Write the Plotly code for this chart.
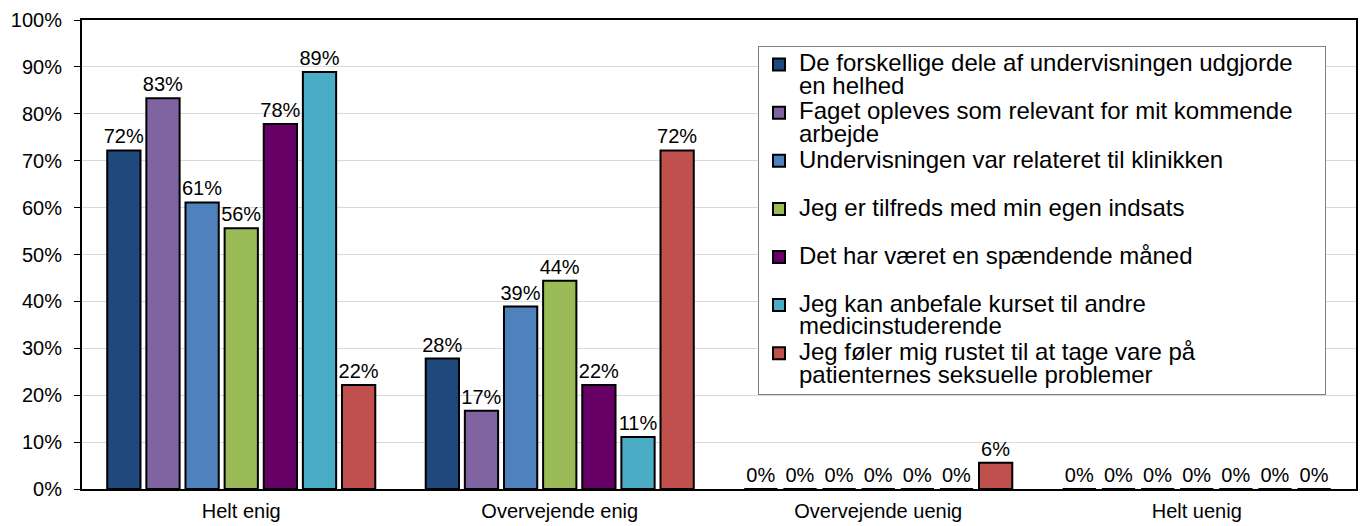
import plotly.graph_objects as go

categories = ["Helt enig", "Overvejende enig", "Overvejende uenig", "Helt uenig"]
series_lines = [
    ["De forskellige dele af undervisningen udgjorde&nbsp;&nbsp;&nbsp;&nbsp;", "en helhed"],
    ["Faget opleves som relevant for mit kommende", "arbejde"],
    ["Undervisningen var relateret til klinikken", " "],
    ["Jeg er tilfreds med min egen indsats", " "],
    ["Det har været en spændende måned", " "],
    ["Jeg kan anbefale kurset til andre", "medicinstuderende"],
    ["Jeg føler mig rustet til at tage vare på", "patienternes seksuelle problemer"],
]
values = [
    [72.2, 27.8, 0, 0],
    [83.3, 16.7, 0, 0],
    [61.1, 38.9, 0, 0],
    [55.6, 44.4, 0, 0],
    [77.8, 22.2, 0, 0],
    [88.9, 11.1, 0, 0],
    [22.2, 72.2, 5.6, 0],
]
colors = ["#1F497D", "#8064A2", "#4F81BD", "#9BBB59", "#660066", "#4BACC6", "#C0504D"]

FONT = "Liberation Sans, Arial, sans-serif"


def legend_name(lines):
    return "<br>".join(f'<span style="font-size:24px">{ln}</span>' for ln in lines)


fig = go.Figure()
for lines, vals, col in zip(series_lines, values, colors):
    fig.add_trace(go.Bar(
        name=legend_name(lines),
        x=categories,
        y=vals,
        marker=dict(color=col, line=dict(color="black", width=2)),
        text=[f"{round(v):d}%" for v in vals],
        textposition="outside",
        constraintext="none",
        textfont=dict(size=20, color="black", family=FONT),
        cliponaxis=False,
    ))

# the page body has an 8px margin, so the figure is sized to fit the window
fig.update_layout(
    width=1361, height=518,
    margin=dict(l=74, r=13, t=12, b=37),
    paper_bgcolor="white", plot_bgcolor="white",
    barmode="group", bargap=0.14, bargroupgap=0.15,
    font=dict(family=FONT, size=20, color="black"),
    showlegend=True,
    legend=dict(
        x=0.5306, y=0.945, xanchor="left", yanchor="top",
        bgcolor="white", bordercolor="#808080", borderwidth=1,
        font=dict(size=17.35, family=FONT, color="black"),
        valign="top", tracegroupgap=0,
    ),
    xaxis=dict(showline=True, linecolor="black", linewidth=2, mirror=True,
               ticks="", tickfont=dict(size=20), automargin=False,
               ticklabelstandoff=3),
    yaxis=dict(range=[0, 100], dtick=10, ticksuffix="%",
               showline=True, linecolor="black", linewidth=2, mirror=True,
               ticks="outside", ticklen=6, tickwidth=1, tickcolor="black",
               ticklabelstandoff=8,
               showgrid=True, gridcolor="#d9d9d9", gridwidth=1,
               tickfont=dict(size=20), zeroline=False, automargin=False),
)

fig.write_html("out.html")
